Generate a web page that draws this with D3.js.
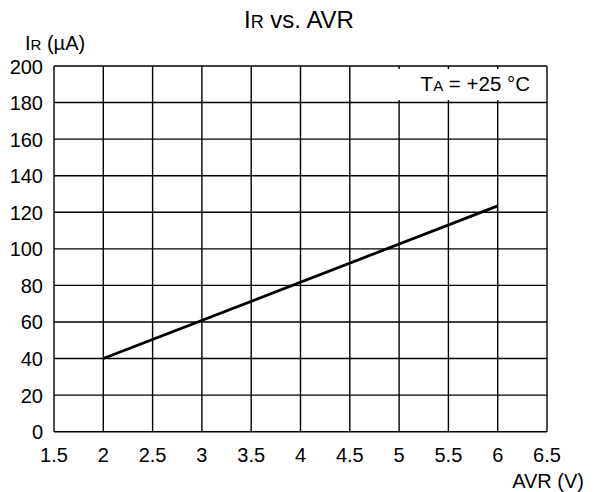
<!DOCTYPE html>
<html><head><meta charset="utf-8">
<script src="https://cdn.jsdelivr.net/npm/d3@7"></script>
<style>body{margin:0;background:#fff}text{font-family:"Liberation Sans",Arial,sans-serif;fill:#000}</style>
</head><body><svg id="c" width="595" height="492"></svg>
<script>
const xTicks = [1.5,2,2.5,3,3.5,4,4.5,5,5.5,6,6.5];
const yTicks = [0,20,40,60,80,100,120,140,160,180,200];
const avr = [2,6];
const ir = [40,123.5];

const svg = d3.select("#c");
const L=54,R=547,T=66,B=431.7;
const x = d3.scaleLinear().domain([1.5,6.5]).range([L,R]);
const y = d3.scaleLinear().domain([0,200]).range([B,T]);
const fs = 20, ss = 15;

// grid
svg.append("g").selectAll("line").data(xTicks).join("line")
  .attr("x1",d=>x(d)).attr("x2",d=>x(d)).attr("y1",T).attr("y2",B)
  .attr("stroke","#000").attr("stroke-width",1.4);
svg.append("g").selectAll("line").data(yTicks).join("line")
  .attr("y1",d=>y(d)).attr("y2",d=>y(d)).attr("x1",L).attr("x2",R)
  .attr("stroke","#000").attr("stroke-width",1.4);

// legend box
svg.append("rect").attr("x",392).attr("y",69).attr("width",R-392-1).attr("height",y(180)-69-2.5).attr("fill","#fff");
const ta = svg.append("text").attr("x",530).attr("y",91).attr("text-anchor","end").attr("font-size",fs+0.5);
ta.append("tspan").text("T");
ta.append("tspan").attr("font-size",ss).text("A");
ta.append("tspan").text(" = +25 °C");

// data line
svg.append("path").datum(avr.map((v,i)=>[v,ir[i]]))
  .attr("d",d3.line().x(d=>x(d[0])).y(d=>y(d[1])))
  .attr("fill","none").attr("stroke","#000").attr("stroke-width",2.8);

// tick labels
svg.append("g").selectAll("text").data(xTicks).join("text")
  .attr("x",d=>x(d)).attr("y",462).attr("text-anchor","middle").attr("font-size",fs).text(d=>d);
svg.append("g").selectAll("text").data(yTicks).join("text")
  .attr("x",43).attr("y",d=>y(d)+7.5).attr("text-anchor","end").attr("font-size",fs).text(d=>d);

// titles
const t = svg.append("text").attr("x",299).attr("y",28).attr("text-anchor","middle").attr("font-size",24);
t.append("tspan").text("I"); t.append("tspan").attr("font-size",18).text("R"); t.append("tspan").text(" vs. AVR");
const yl = svg.append("text").attr("x",25).attr("y",50).attr("font-size",fs);
yl.append("tspan").text("I"); yl.append("tspan").attr("font-size",ss).text("R"); yl.append("tspan").text(" (µA)");
svg.append("text").attr("x",584).attr("y",488).attr("text-anchor","end").attr("font-size",fs).text("AVR (V)");
</script></body></html>
